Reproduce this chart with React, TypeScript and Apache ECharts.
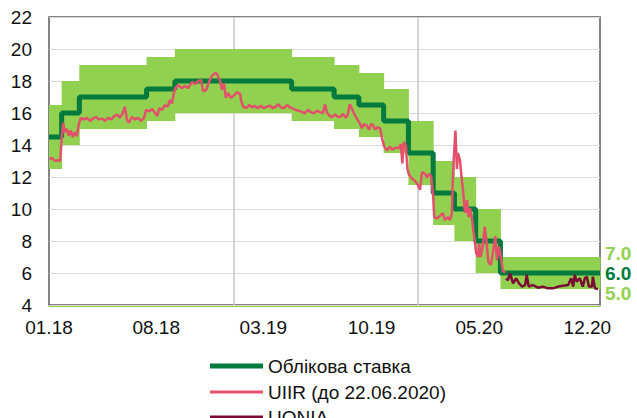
import React, { useEffect, useRef } from 'react';
import * as echarts from 'echarts';

// Axis bounds and tick labels
const axisStart = '2018-01-01';
const axisEnd = '2020-12-26';
const xLabelDates = ['2018-01-01', '2018-08-01', '2019-03-01', '2019-10-01', '2020-05-01', '2020-12-01'];
const yearLineDates = ['2019-01-01', '2020-01-01'];
const yMin = 4;
const yMax = 22;
const yStep = 2;

// Policy rate (step) and corridor
const rateDates = ['2018-01-01', '2018-01-26', '2018-03-02', '2018-07-13', '2018-09-07', '2019-04-26', '2019-07-19', '2019-09-06', '2019-10-25', '2019-12-13', '2020-01-31', '2020-03-13', '2020-04-24', '2020-06-12'];
const rateValues = [14.5, 16, 17, 17.5, 18, 17.5, 17, 16.5, 15.5, 13.5, 11, 10, 8, 6];
const bandUpper = [16.5, 18, 19, 19.5, 20, 19.5, 19, 18.5, 17.5, 15.5, 13, 12, 10, 7];
const bandLower = [12.5, 14, 15, 15.5, 16, 15.5, 15, 14.5, 13.5, 11.5, 9, 8, 6, 5];

// UIIR (until 22.06.2020)
const uiir: [string, number][] = [
  ['2018-01-02', 13.1], ['2018-01-07', 13.2], ['2018-01-13', 13.0], ['2018-01-19', 13.05], ['2018-01-23', 13.0],
  ['2018-01-26', 14.4], ['2018-01-29', 15.4], ['2018-02-01', 14.8], ['2018-02-05', 15.0], ['2018-02-09', 14.6],
  ['2018-02-13', 14.9], ['2018-02-17', 14.5], ['2018-02-21', 14.8], ['2018-02-25', 14.55], ['2018-03-01', 15.3],
  ['2018-03-05', 15.7], ['2018-03-11', 15.6], ['2018-03-17', 15.7], ['2018-03-23', 15.5], ['2018-03-29', 15.65],
  ['2018-04-04', 15.75], ['2018-04-10', 15.6], ['2018-04-16', 15.65], ['2018-04-22', 15.5], ['2018-04-28', 15.7],
  ['2018-05-04', 15.6], ['2018-05-10', 15.8], ['2018-05-16', 15.9], ['2018-05-21', 15.7], ['2018-05-27', 16.0],
  ['2018-05-31', 16.4], ['2018-06-04', 15.6], ['2018-06-08', 15.4], ['2018-06-14', 15.75], ['2018-06-20', 15.6],
  ['2018-06-26', 15.7], ['2018-07-02', 15.5], ['2018-07-08', 15.7], ['2018-07-12', 16.2], ['2018-07-18', 16.1],
  ['2018-07-24', 16.25], ['2018-07-30', 16.0], ['2018-08-03', 15.8], ['2018-08-07', 16.3], ['2018-08-13', 16.2],
  ['2018-08-18', 16.5], ['2018-08-24', 16.4], ['2018-08-28', 16.8], ['2018-09-01', 16.6], ['2018-09-05', 17.2],
  ['2018-09-07', 17.5], ['2018-09-13', 17.75], ['2018-09-21', 17.55], ['2018-09-27', 17.7], ['2018-10-03', 17.55],
  ['2018-10-11', 17.95], ['2018-10-17', 17.8], ['2018-10-23', 18.0], ['2018-10-29', 18.05], ['2018-11-02', 17.35],
  ['2018-11-08', 17.45], ['2018-11-13', 17.9], ['2018-11-19', 18.3], ['2018-11-25', 18.5], ['2018-11-29', 18.45],
  ['2018-12-05', 18.05], ['2018-12-09', 17.45], ['2018-12-13', 17.85], ['2018-12-17', 16.95], ['2018-12-21', 17.25],
  ['2018-12-27', 16.95], ['2019-01-02', 17.1], ['2019-01-08', 17.3], ['2019-01-14', 17.2], ['2019-01-16', 16.8],
  ['2019-01-20', 16.4], ['2019-01-26', 16.3], ['2019-02-01', 16.5], ['2019-02-07', 16.35], ['2019-02-12', 16.45],
  ['2019-02-18', 16.3], ['2019-02-24', 16.45], ['2019-03-02', 16.3], ['2019-03-08', 16.4], ['2019-03-14', 16.45],
  ['2019-03-20', 16.3], ['2019-03-26', 16.4], ['2019-03-30', 16.55], ['2019-04-05', 16.35], ['2019-04-11', 16.3],
  ['2019-04-17', 16.5], ['2019-04-23', 16.35], ['2019-04-27', 16.3], ['2019-05-03', 16.2], ['2019-05-09', 16.15],
  ['2019-05-14', 16.1], ['2019-05-22', 15.98], ['2019-05-28', 16.2], ['2019-06-03', 16.05], ['2019-06-09', 15.98],
  ['2019-06-15', 16.15], ['2019-06-21', 16.05], ['2019-06-27', 16.0], ['2019-07-01', 16.55], ['2019-07-05', 16.0],
  ['2019-07-11', 15.8], ['2019-07-15', 15.75], ['2019-07-21', 15.9], ['2019-07-27', 15.75], ['2019-07-31', 15.75],
  ['2019-08-06', 15.95], ['2019-08-11', 15.7], ['2019-08-15', 15.9], ['2019-08-19', 16.55], ['2019-08-23', 16.3],
  ['2019-08-27', 16.0], ['2019-09-02', 15.65], ['2019-09-08', 15.35], ['2019-09-12', 15.05], ['2019-09-16', 15.3],
  ['2019-09-22', 15.2], ['2019-09-26', 14.95], ['2019-09-30', 15.3], ['2019-10-04', 15.25], ['2019-10-08', 14.95],
  ['2019-10-12', 15.1], ['2019-10-18', 15.05], ['2019-10-22', 14.4], ['2019-10-26', 13.9], ['2019-11-01', 13.65],
  ['2019-11-06', 13.9], ['2019-11-12', 13.7], ['2019-11-18', 13.85], ['2019-11-24', 13.8], ['2019-11-28', 14.05],
  ['2019-12-01', 12.85], ['2019-12-04', 14.2], ['2019-12-08', 13.95], ['2019-12-11', 12.5], ['2019-12-14', 12.15],
  ['2019-12-20', 11.9], ['2019-12-26', 11.75], ['2020-01-01', 11.5], ['2020-01-05', 11.2], ['2020-01-09', 12.3],
  ['2020-01-15', 12.2], ['2020-01-19', 11.95], ['2020-01-23', 12.2], ['2020-01-27', 12.05], ['2020-01-31', 10.8],
  ['2020-02-02', 9.5], ['2020-02-07', 9.4], ['2020-02-13', 9.55], ['2020-02-19', 9.75], ['2020-02-23', 9.3],
  ['2020-02-29', 9.5], ['2020-03-04', 9.3], ['2020-03-08', 9.7], ['2020-03-10', 12.0], ['2020-03-12', 13.3],
  ['2020-03-15', 14.9], ['2020-03-18', 12.5], ['2020-03-20', 13.5], ['2020-03-24', 13.05], ['2020-03-27', 12.0],
  ['2020-03-30', 11.2], ['2020-04-03', 9.75], ['2020-04-07', 10.55], ['2020-04-10', 9.5], ['2020-04-13', 10.05],
  ['2020-04-17', 9.3], ['2020-04-21', 8.3], ['2020-04-25', 7.25], ['2020-04-29', 7.0], ['2020-05-01', 7.85],
  ['2020-05-04', 7.0], ['2020-05-08', 7.65], ['2020-05-12', 8.9], ['2020-05-16', 7.85], ['2020-05-19', 6.7],
  ['2020-05-24', 6.5], ['2020-05-28', 7.25], ['2020-06-02', 8.3], ['2020-06-05', 6.8], ['2020-06-09', 7.65],
  ['2020-06-13', 7.0], ['2020-06-17', 6.1], ['2020-06-22', 6.05],
];

// UONIA
const uonia: [string, number][] = [
  ['2020-06-23', 5.65], ['2020-06-27', 5.55], ['2020-07-01', 5.98], ['2020-07-07', 5.35], ['2020-07-13', 5.67],
  ['2020-07-19', 5.35], ['2020-07-25', 5.15], ['2020-07-31', 5.25], ['2020-08-03', 5.88], ['2020-08-07', 5.15],
  ['2020-08-15', 5.25], ['2020-08-25', 5.08], ['2020-09-04', 5.15], ['2020-09-14', 5.04], ['2020-09-24', 5.04],
  ['2020-10-04', 5.15], ['2020-10-14', 5.2], ['2020-10-24', 5.25], ['2020-10-30', 5.67], ['2020-11-03', 5.15],
  ['2020-11-06', 5.88], ['2020-11-10', 5.46], ['2020-11-16', 5.67], ['2020-11-22', 5.15], ['2020-11-26', 5.67],
  ['2020-11-30', 5.77], ['2020-12-04', 5.15], ['2020-12-10', 5.15], ['2020-12-12', 5.77], ['2020-12-16', 5.04],
  ['2020-12-22', 5.0],
];

const seriesNames = ['Облікова ставка', 'UIIR (до 22.06.2020)', 'UONIA'];

const ts = (s: string) => {
  const [y, m, d] = s.split('-').map(Number);
  return Date.UTC(y, m - 1, d);
};
const fmtLabel = (v: number) => {
  const d = new Date(v);
  return String(d.getUTCMonth() + 1).padStart(2, '0') + '.' + String(d.getUTCFullYear() % 100).padStart(2, '0');
};

const FONT = 'Liberation Sans, Arial, sans-serif';
const DARK_GREEN = '#007a3d';
const LIGHT_GREEN = '#92d050';
const PINK = '#e3506b';
const MAROON = '#7b0a35';

export default function App() {
  const ref = useRef<HTMLDivElement>(null);
  useEffect(() => {
    document.body.style.margin = '0';
    if (!ref.current) return;
    const chart = echarts.init(ref.current, undefined, { renderer: 'svg' });
    const stepX = [...rateDates.map(ts), ts(axisEnd)];
    const withEnd = (arr: number[]) => [...arr, arr[arr.length - 1]];
    const rateData = withEnd(rateValues).map((v, i) => [stepX[i], v]);
    const lowData = withEnd(bandLower).map((v, i) => [stepX[i], v]);
    const highData = withEnd(bandUpper).map((v, i) => [stepX[i], v]);
    const bandRects = rateDates.map((_, i) => [stepX[i], stepX[i + 1], bandLower[i], bandUpper[i]]);
    const last = rateValues.length - 1;

    const legendBase = {
      orient: 'horizontal',
      left: 205,
      itemWidth: 53,
      icon: 'rect',
      textStyle: { fontSize: 19, color: '#111', fontFamily: FONT, lineHeight: 20 },
    };

    const bandLabel = (text: string, dy: number) => ({
      show: true, formatter: () => text, color: LIGHT_GREEN,
      fontSize: 19, fontWeight: 'bold', fontFamily: FONT, offset: [0, dy], distance: 5,
    });

    chart.setOption({
      animation: false,
      textStyle: { fontFamily: FONT },
      grid: {
        left: 49, right: 37, top: 17, bottom: 113,
        show: true, borderColor: '#595959', borderWidth: 1.5, backgroundColor: 'transparent',
      },
      legend: [
        { ...legendBase, data: [seriesNames[0]], top: 351, itemHeight: 5 },
        { ...legendBase, data: [seriesNames[1]], top: 377, itemHeight: 3 },
        { ...legendBase, data: [seriesNames[2]], top: 402, itemHeight: 3 },
      ],
      xAxis: {
        type: 'value',
        min: ts(axisStart),
        max: ts(axisEnd),
        axisLine: { show: true, onZero: false, lineStyle: { color: LIGHT_GREEN, width: 1 } },
        offset: 1.5,
        axisTick: { show: false },
        splitLine: { show: false },
        axisLabel: {
          customValues: xLabelDates.map(ts),
          formatter: (v: number) => fmtLabel(v),
          fontSize: 19,
          color: '#111',
          margin: 11,
          fontFamily: FONT,
        },
      },
      yAxis: {
        type: 'value',
        min: yMin,
        max: yMax,
        interval: yStep,
        axisLine: { show: false },
        axisTick: { show: false },
        splitLine: { show: true, lineStyle: { color: '#d9d9d9', width: 1 } },
        axisLabel: { fontSize: 19, color: '#111', margin: 17, fontFamily: FONT },
      },
      series: [
        {
          name: 'band', type: 'custom', data: bandRects, z: 2, silent: true,
          encode: { x: [0, 1], y: [2, 3] },
          renderItem: (_p: any, api: any) => {
            const p0 = api.coord([api.value(0), api.value(3)]);
            const p1 = api.coord([api.value(1), api.value(2)]);
            return {
              type: 'rect',
              shape: { x: p0[0], y: p0[1], width: p1[0] - p0[0] + 0.5, height: p1[1] - p0[1] },
              style: { fill: LIGHT_GREEN },
            };
          },
        },
        {
          name: 'bandLow', type: 'line', step: 'end', data: lowData,
          symbol: 'none', silent: true, z: 1,
          lineStyle: { opacity: 0, width: 0 },
          endLabel: bandLabel(bandLower[last].toFixed(1), 4),
          markLine: {
            silent: true, symbol: 'none', z: 1, label: { show: false },
            lineStyle: { color: '#c4c8cd', width: 1.5, type: 'solid' },
            data: yearLineDates.map((d) => ({ xAxis: ts(d) })),
          },
        },
        {
          name: 'bandHigh', type: 'line', step: 'end', data: highData,
          symbol: 'none', silent: true, z: 1,
          lineStyle: { opacity: 0, width: 0 },
          endLabel: bandLabel(bandUpper[last].toFixed(1), -4),
        },
        {
          name: seriesNames[0], type: 'line', step: 'end', data: rateData,
          symbol: 'none', z: 3, color: DARK_GREEN,
          lineStyle: { color: DARK_GREEN, width: 5 },
          endLabel: {
            show: true, formatter: () => rateValues[last].toFixed(1), color: DARK_GREEN,
            fontSize: 19, fontWeight: 'bold', fontFamily: FONT, distance: 5,
          },
        },
        {
          name: seriesNames[1], type: 'line', data: uiir.map(([d, v]) => [ts(d), v]),
          symbol: 'none', z: 4, color: PINK,
          lineStyle: { color: PINK, width: 2.5 },
        },
        {
          name: seriesNames[2], type: 'line', data: uonia.map(([d, v]) => [ts(d), v]),
          symbol: 'none', z: 5, color: MAROON,
          lineStyle: { color: MAROON, width: 2.5 },
        },
      ],
    });
    return () => chart.dispose();
  }, []);
  return <div ref={ref} style={{ width: 637, height: 418 }} />;
}
